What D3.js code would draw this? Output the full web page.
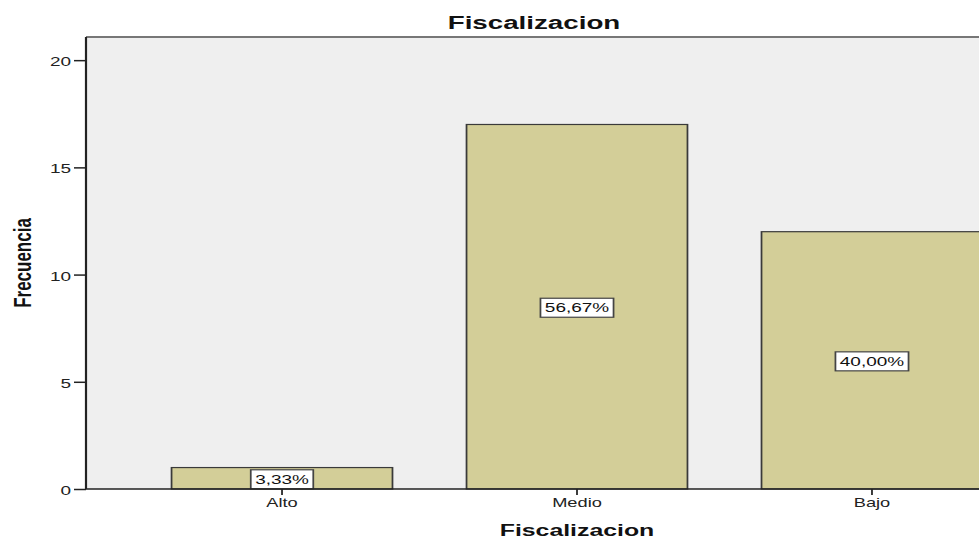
<!DOCTYPE html>
<html>
<head>
<meta charset="utf-8">
<script src="https://cdn.jsdelivr.net/npm/d3@7"></script>
<style>
  html, body { margin: 0; padding: 0; background: #fff; }
  svg { display: block; font-family: "Liberation Sans", Arial, sans-serif; }
</style>
</head>
<body>
<div class="chart"></div>
<script>
// data
const categories = ["Alto", "Medio", "Bajo"];
const counts = [1, 17, 12];
const pctLabels = ["3,33%", "56,67%", "40,00%"];
const yTicks = [0, 5, 10, 15, 20];
const chartTitle = "Fiscalizacion";
const xTitle = "Fiscalizacion";
const yTitle = "Frecuencia";

// the original picture is stretched sideways, so draw in a narrower viewBox
const sx = 1.46;
const W = 979, H = 540;
const vw = W / sx;

const m = { top: 37, left: 86 / sx, right: 1068 / sx, bottom: 489 };

const svg = d3.select(".chart")
    .append("svg")
    .attr("width", W)
    .attr("height", H)
    .attr("viewBox", "0 0 " + vw + " " + H)
    .attr("preserveAspectRatio", "none");

const x = d3.scaleBand()
    .domain(categories)
    .range([m.left, m.right])
    .paddingInner(0.251)
    .paddingOuter(0.29);

const y = d3.scaleLinear()
    .domain([0, 21.08])
    .range([m.bottom, m.top]);

// plot background
svg.append("rect")
    .attr("x", m.left)
    .attr("y", m.top)
    .attr("width", m.right - m.left)
    .attr("height", m.bottom - m.top)
    .attr("fill", "#efefef");

svg.append("line")
    .attr("x1", m.left).attr("x2", m.right)
    .attr("y1", m.top).attr("y2", m.top)
    .attr("stroke", "#777")
    .attr("stroke-width", 2);

// bars
svg.selectAll(".bar")
    .data(counts)
    .enter().append("rect")
    .attr("class", "bar")
    .attr("x", (d, i) => x(categories[i]))
    .attr("y", d => y(d))
    .attr("width", x.bandwidth())
    .attr("height", d => y(0) - y(d))
    .attr("fill", "#d3ce98")
    .attr("stroke", "#3a3a3a")
    .attr("stroke-width", 1.2);

// percent labels in white boxes
const lab = svg.selectAll(".lab")
    .data(counts)
    .enter().append("g")
    .attr("class", "lab")
    .attr("transform", (d, i) => "translate(" + (x(categories[i]) + x.bandwidth() / 2) + "," + (y(d / 2) + 1) + ")");

lab.append("text")
    .attr("text-anchor", "middle")
    .attr("y", 4.6)
    .attr("font-size", 13)
    .attr("fill", "#111")
    .text((d, i) => pctLabels[i]);

lab.each(function() {
    const g = d3.select(this);
    const bb = g.select("text").node().getBBox();
    g.insert("rect", "text")
        .attr("x", bb.x - 3)
        .attr("y", -9.5)
        .attr("width", bb.width + 6)
        .attr("height", 19)
        .attr("fill", "#fff")
        .attr("stroke", "#444")
        .attr("stroke-width", 1.2);
});

// y axis
const yAxis = svg.append("g")
    .attr("transform", "translate(" + m.left + ",0)")
    .call(d3.axisLeft(y).tickValues(yTicks).tickSize(12 / sx).tickPadding(2));
yAxis.select(".domain").remove();
yAxis.selectAll(".tick line").attr("stroke", "#222").attr("stroke-width", 1.5);
yAxis.selectAll(".tick text")
    .attr("font-size", 13)
    .attr("font-family", "Liberation Sans, Arial, sans-serif")
    .attr("fill", "#222")
    .attr("dy", "0.42em");

svg.append("line")
    .attr("x1", m.left).attr("x2", m.left)
    .attr("y1", m.top).attr("y2", m.bottom)
    .attr("stroke", "#222")
    .attr("stroke-width", 1.5);

// x axis
const xAxis = svg.append("g")
    .attr("transform", "translate(0," + m.bottom + ")")
    .call(d3.axisBottom(x).tickSize(6).tickPadding(3));
xAxis.select(".domain").remove();
xAxis.selectAll(".tick line").attr("stroke", "#222").attr("stroke-width", 1.2);
xAxis.selectAll(".tick text")
    .attr("font-size", 12.5)
    .attr("font-family", "Liberation Sans, Arial, sans-serif")
    .attr("fill", "#222");

svg.append("line")
    .attr("x1", m.left).attr("x2", m.right)
    .attr("y1", m.bottom).attr("y2", m.bottom)
    .attr("stroke", "#222")
    .attr("stroke-width", 1.5);

// titles
svg.append("text")
    .attr("x", (m.right) / 2)
    .attr("y", 29)
    .attr("text-anchor", "middle")
    .attr("font-size", 19)
    .attr("font-weight", "bold")
    .attr("fill", "#111")
    .text(chartTitle);

svg.append("text")
    .attr("x", (m.left + m.right) / 2)
    .attr("y", 536)
    .attr("text-anchor", "middle")
    .attr("font-size", 17)
    .attr("font-weight", "bold")
    .attr("fill", "#111")
    .text(xTitle);

svg.append("text")
    .attr("transform", "translate(" + (31 / sx) + "," + ((m.top + m.bottom) / 2) + ") rotate(-90)")
    .attr("text-anchor", "middle")
    .attr("font-size", 17)
    .attr("font-weight", "bold")
    .attr("fill", "#111")
    .text(yTitle);
</script>
</body>
</html>
